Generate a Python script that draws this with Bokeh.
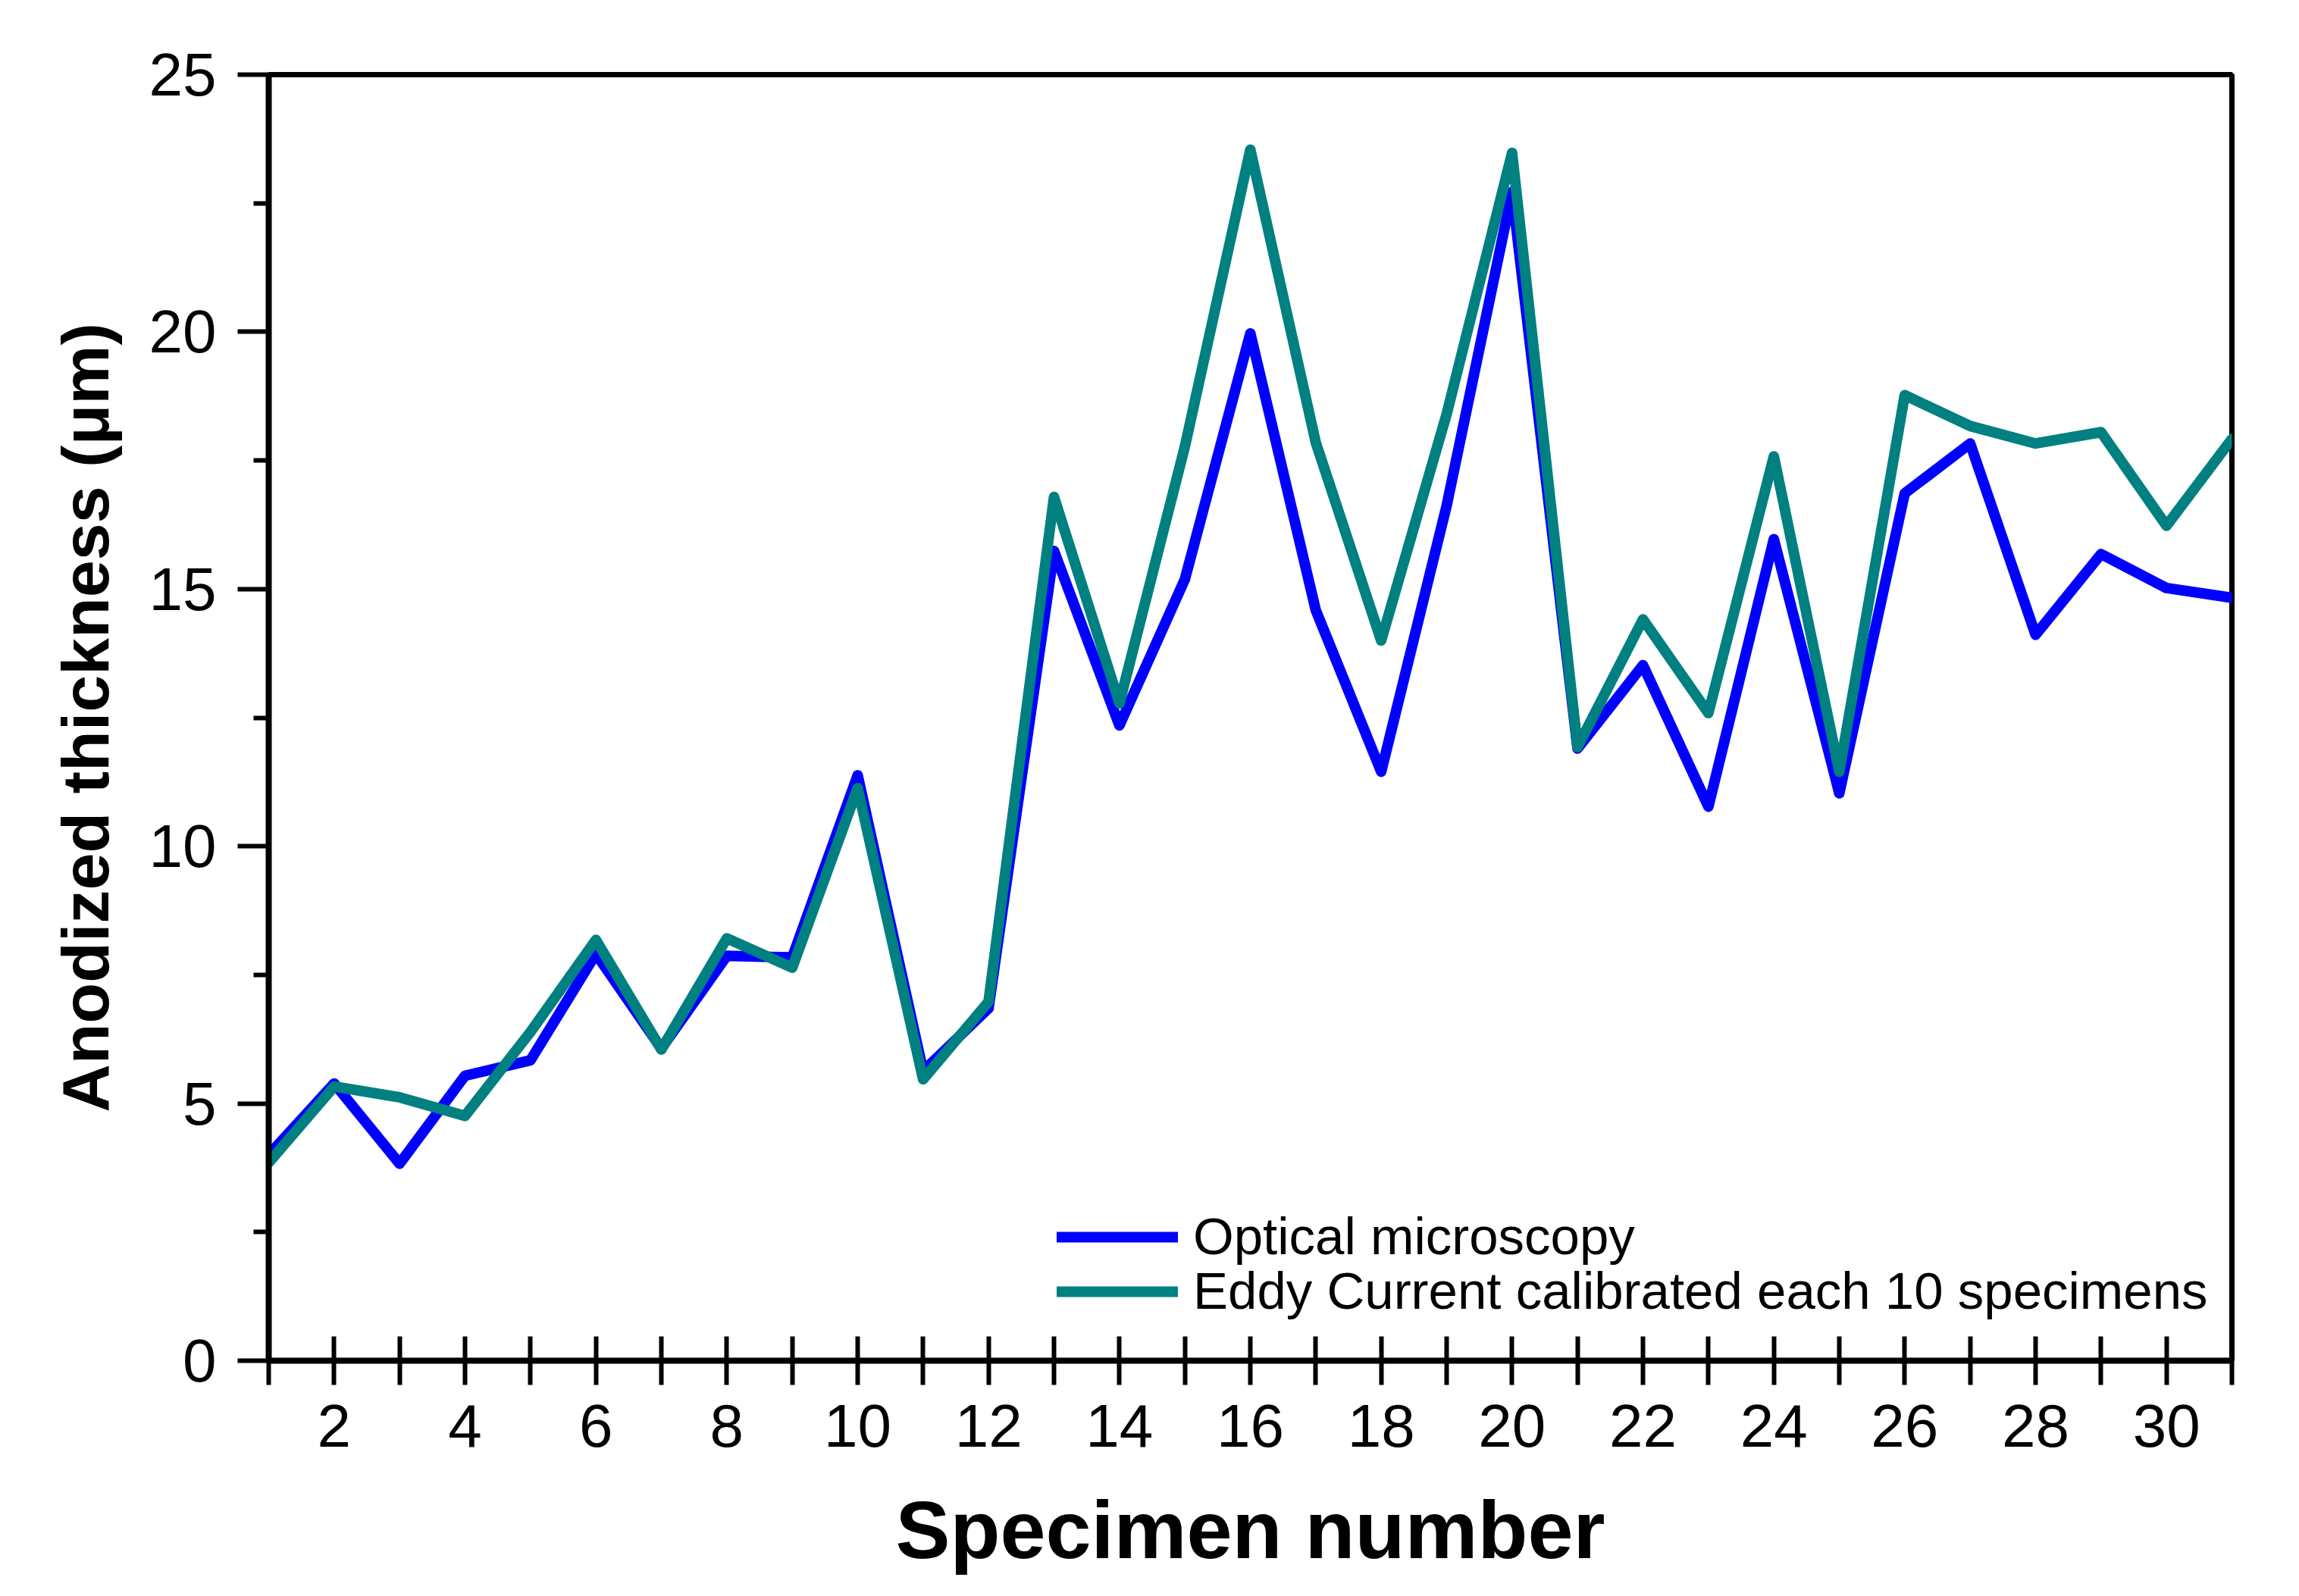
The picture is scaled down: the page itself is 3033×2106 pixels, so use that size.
from bokeh.plotting import figure
from bokeh.models import Range1d, FixedTicker, Legend, LegendItem
from bokeh.embed import file_html
from bokeh.resources import INLINE

specimens = list(range(1, 32))
optical = [4.0, 5.39, 3.83, 5.54, 5.84, 7.91, 6.07, 7.87, 7.84, 11.38, 5.63, 6.85,
           15.74, 12.35, 15.19, 19.97, 14.59, 11.45, 16.62, 22.72, 11.90, 13.52,
           10.77, 15.97, 11.03, 16.86, 17.83, 14.11, 15.68, 15.02, 14.83]
eddy = [3.85, 5.33, 5.12, 4.76, 6.39, 8.18, 6.05, 8.21, 7.64, 11.13, 5.47, 6.98,
        16.79, 12.78, 17.77, 23.54, 17.85, 14.00, 18.40, 23.48, 11.93, 14.41,
        12.59, 17.58, 11.45, 18.77, 18.17, 17.83, 18.05, 16.23, 17.92]
x_ticks = list(range(2, 31, 2))
x_minor = list(range(1, 32, 2))
y_ticks = [0, 5, 10, 15, 20, 25]
y_minor = [2.5, 7.5, 12.5, 17.5, 22.5]
labels = ["Optical microscopy", "Eddy Current calibrated each 10 specimens"]

W, H = 3017, 2090
p = figure(width=W, height=H, output_backend="svg", toolbar_location=None,
           x_range=Range1d(1, 31), y_range=Range1d(0, 25),
           min_border_left=354, min_border_right=73,
           min_border_top=98, min_border_bottom=295)
p.background_fill_color = "white"
p.border_fill_color = "white"
p.grid.visible = False
p.outline_line_color = "black"
p.outline_line_width = 7

FONT = "Liberation Sans"
r1 = p.line(specimens, optical, line_color="#0000FF", line_width=14,
            line_join="round", line_cap="round")
r2 = p.line(specimens, eddy, line_color="#008080", line_width=14,
            line_join="round", line_cap="round")

xa = p.xaxis[0]
xa.ticker = FixedTicker(ticks=x_ticks, minor_ticks=x_minor)
xa.major_tick_in = 32
xa.major_tick_out = 32
xa.minor_tick_in = 32
xa.minor_tick_out = 32
xa.axis_line_width = 8
xa.major_tick_line_width = 6
xa.minor_tick_line_width = 6
xa.major_label_text_font = FONT
xa.major_label_text_font_size = "80px"
xa.major_label_text_color = "black"
xa.major_label_standoff = 26
xa.axis_label = "Specimen number"
xa.axis_label_text_font = FONT
xa.axis_label_text_font_style = "bold"
xa.axis_label_text_font_size = "108px"
xa.axis_label_text_color = "black"
xa.axis_label_standoff = 46

ya = p.yaxis[0]
ya.ticker = FixedTicker(ticks=y_ticks, minor_ticks=y_minor)
ya.major_tick_in = 0
ya.major_tick_out = 41
ya.minor_tick_in = 0
ya.minor_tick_out = 20
ya.axis_line_width = 8
ya.major_tick_line_width = 6
ya.minor_tick_line_width = 6
ya.major_label_text_font = FONT
ya.major_label_text_font_size = "80px"
ya.major_label_text_color = "black"
ya.major_label_standoff = 28
ya.axis_label = "Anodized thickness (\u03bcm)"
ya.axis_label_text_font = FONT
ya.axis_label_text_font_style = "bold"
ya.axis_label_text_font_size = "88px"
ya.axis_label_text_color = "black"
ya.axis_label_standoff = 32


def make_legend(label, renderer, loc):
    return Legend(items=[LegendItem(label=label, renderers=[renderer])],
                  location=loc, orientation="vertical",
                  glyph_width=160, glyph_height=60, label_height=60,
                  label_standoff=20, spacing=0, padding=0, margin=0,
                  label_text_font=FONT, label_text_font_size="69px",
                  label_text_color="black",
                  border_line_color=None, background_fill_alpha=0)


p.add_layout(make_legend(labels[0], r1, (1040, 124)), "center")
p.add_layout(make_legend(labels[1], r2, (1040, 52)), "center")

open("out.html", "w").write(file_html(p, INLINE))
